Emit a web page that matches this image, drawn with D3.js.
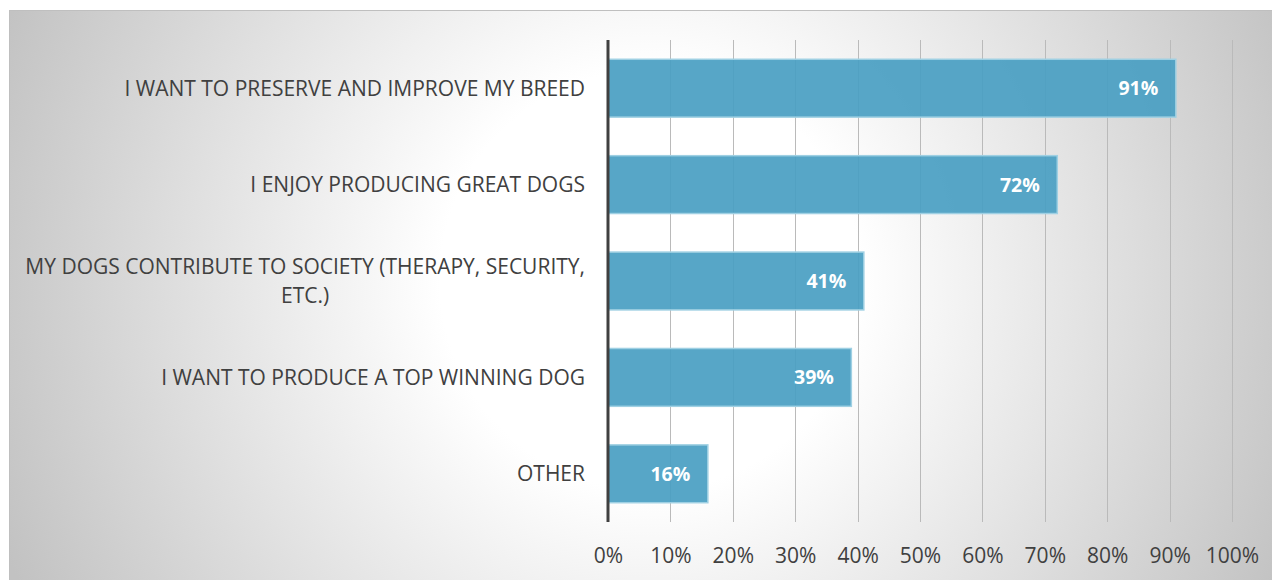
<!DOCTYPE html>
<html>
<head>
<meta charset="utf-8">
<script src="https://cdn.jsdelivr.net/npm/d3@7"></script>
<style>
  html, body { margin: 0; padding: 0; background: #ffffff; }
  svg { display: block; }
  text { font-family: "Open Sans", "Liberation Sans", sans-serif; }
</style>
</head>
<body>
<svg id="chart" width="1272" height="580"></svg>
<script>
// Reasons for breeding (share of respondents)
const categories = [
  "I WANT TO PRESERVE AND IMPROVE MY BREED",
  "I ENJOY PRODUCING GREAT DOGS",
  "MY DOGS CONTRIBUTE TO SOCIETY (THERAPY, SECURITY, ETC.)",
  "I WANT TO PRODUCE A TOP WINNING DOG",
  "OTHER"
];
const values = [91, 72, 41, 39, 16];
const tickValues = [0, 10, 20, 30, 40, 50, 60, 70, 80, 90, 100];

const W = 1272, H = 580;
const plot = { left: 608, right: 1232, top: 40, bottom: 522 };
const labelMaxWidth = 565;

const svg = d3.select("#chart");

// background panel with a soft radial fill
const defs = svg.append("defs");
const grad = defs.append("radialGradient")
  .attr("id", "bg")
  .attr("gradientUnits", "userSpaceOnUse")
  .attr("cx", 650).attr("cy", 280).attr("r", 700);
grad.append("stop").attr("offset", "0").attr("stop-color", "#ffffff");
grad.append("stop").attr("offset", "0.3").attr("stop-color", "#ffffff");
grad.append("stop").attr("offset", "1").attr("stop-color", "#c2c2c2");

svg.append("rect")
  .attr("x", 9.5).attr("y", 10.5)
  .attr("width", W).attr("height", H)
  .attr("fill", "url(#bg)")
  .attr("stroke", "#bfbfbf")
  .attr("stroke-width", 1);

const x = d3.scaleLinear().domain([0, 100]).range([plot.left, plot.right]);
const y = d3.scaleBand().domain(categories).range([plot.top, plot.bottom]).paddingInner(0.4).paddingOuter(0.2);

// vertical gridlines
svg.append("g")
  .selectAll("line")
  .data(tickValues.filter(d => d > 0))
  .join("line")
  .attr("x1", d => Math.round(x(d)) + 0.5)
  .attr("x2", d => Math.round(x(d)) + 0.5)
  .attr("y1", plot.top)
  .attr("y2", plot.bottom)
  .attr("stroke", "#bababa")
  .attr("stroke-width", 1);

// bars
svg.append("g")
  .selectAll("rect")
  .data(values)
  .join("rect")
  .attr("x", x(0))
  .attr("y", (d, i) => y(categories[i]))
  .attr("width", d => x(d) - x(0))
  .attr("height", y.bandwidth())
  .attr("fill", "#4a9fc3")
  .attr("fill-opacity", 0.93)
  .attr("stroke", "#9fd0e3")
  .attr("stroke-width", 1.5);

// value labels inside bar ends
svg.append("g")
  .selectAll("text")
  .data(values)
  .join("text")
  .attr("x", d => x(d) - 17.5)
  .attr("y", (d, i) => y(categories[i]) + y.bandwidth() / 2)
  .attr("dy", "0.36em")
  .attr("text-anchor", "end")
  .attr("fill", "#ffffff")
  .attr("font-weight", "bold")
  .attr("font-size", 19.5)
  .text(d => d + "%");

// x axis tick labels
const xAxis = d3.axisBottom(x).tickValues(tickValues).tickFormat(d => d + "%").tickSize(0).tickPadding(0);
const gx = svg.append("g").attr("transform", `translate(0, 563)`).call(xAxis);
gx.select(".domain").remove();
gx.selectAll("text")
  .attr("font-family", "\"Open Sans\", sans-serif")
  .attr("font-size", 21)
  .attr("fill", "#404040")
  .attr("dy", 0);

// category axis (labels drawn below so they can wrap)
const yAxis = d3.axisLeft(y).tickSize(0).tickPadding(0).tickFormat("");
const gy = svg.append("g").attr("transform", `translate(${plot.left}, 0)`).call(yAxis);
gy.select(".domain").remove();

const labelG = svg.append("g")
  .attr("font-size", 21)
  .attr("fill", "#404040");

categories.forEach(cat => {
  const cy = y(cat) + y.bandwidth() / 2;
  const t = labelG.append("text").attr("text-anchor", "middle");
  // greedy word wrap
  const words = cat.split(" ");
  const lines = [];
  let cur = "";
  const probe = labelG.append("text");
  words.forEach(w => {
    const test = cur ? cur + " " + w : w;
    probe.text(test);
    if (probe.node().getComputedTextLength() > labelMaxWidth && cur) {
      lines.push(cur);
      cur = w;
    } else {
      cur = test;
    }
  });
  lines.push(cur);
  let maxW = 0;
  lines.forEach(l => { probe.text(l); maxW = Math.max(maxW, probe.node().getComputedTextLength()); });
  probe.remove();
  const lineH = 29;
  const xc = plot.left - 23 - maxW / 2;
  lines.forEach((l, k) => {
    t.append("tspan")
      .attr("x", xc)
      .attr("y", cy + (k - (lines.length - 1) / 2) * lineH)
      .attr("dy", "0.36em")
      .text(l);
  });
});

// category axis line at 0%
svg.append("line")
  .attr("x1", x(0)).attr("x2", x(0))
  .attr("y1", plot.top).attr("y2", plot.bottom)
  .attr("stroke", "#404040")
  .attr("stroke-width", 3);
</script>
</body>
</html>
